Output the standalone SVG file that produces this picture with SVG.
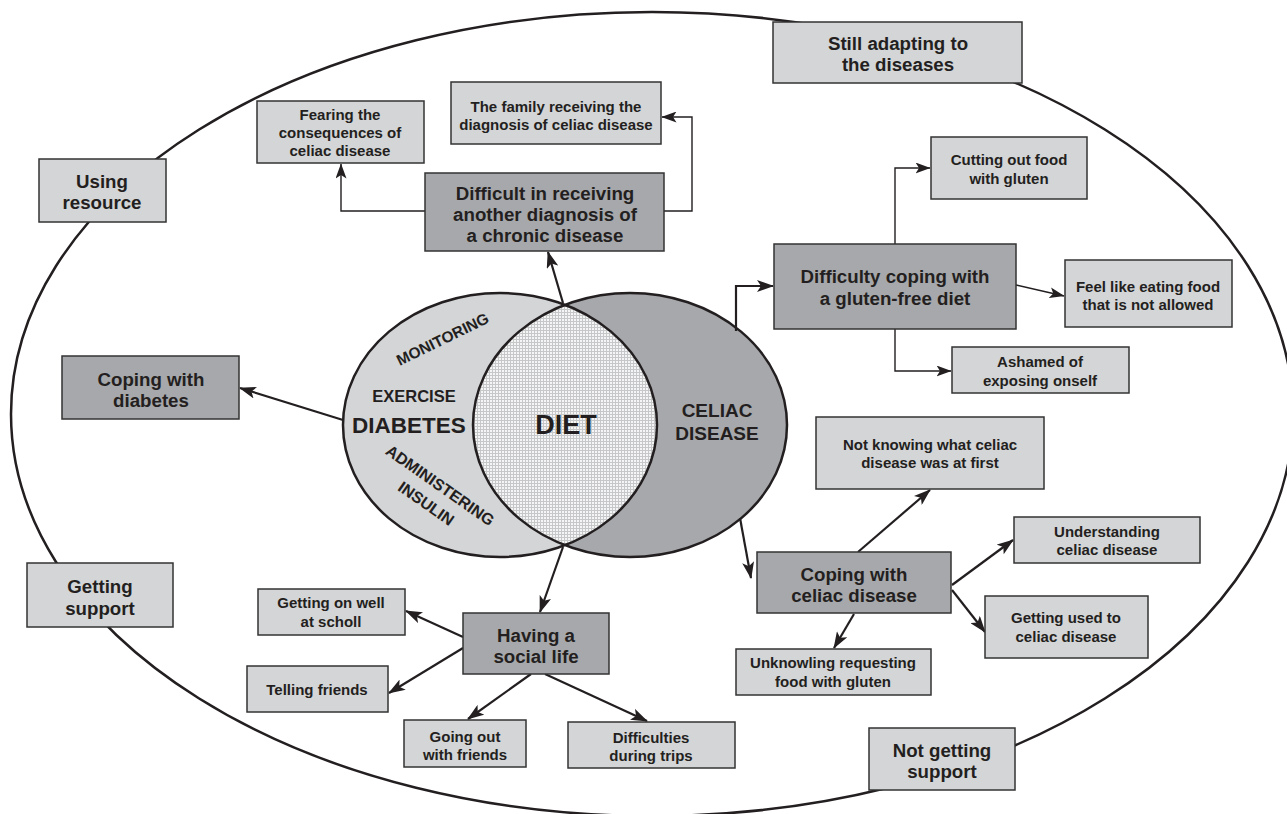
<svg xmlns="http://www.w3.org/2000/svg" width="1287" height="814" viewBox="0 0 1287 814">
<style>
.box{fill:#d4d5d7;stroke:#333;stroke-width:1.5}
.dark{fill:#a7a8ab;stroke:#333;stroke-width:1.5}
text{font-family:"Liberation Sans",Arial,sans-serif;font-weight:700;fill:#231f20;text-anchor:middle}
.s{font-size:15px}
.l{font-size:18.7px}
.thin{fill:none;stroke:#231f20;stroke-width:1.4}
.thick{fill:none;stroke:#231f20;stroke-width:2.2}
</style>
<defs>
<marker id="ah" markerUnits="userSpaceOnUse" markerWidth="17" markerHeight="12" viewBox="0 0 17 12" refX="16" refY="6" orient="auto">
<path d="M0,0 L17,6 L0,12 L4,6 z" fill="#231f20"/>
</marker>
<marker id="ahs" markerUnits="userSpaceOnUse" markerWidth="15" markerHeight="11" viewBox="0 0 15 11" refX="14.5" refY="5.5" orient="auto">
<path d="M0,0 L15,5.5 L0,11 L3.5,5.5 z" fill="#231f20"/>
</marker>
<pattern id="grid" width="3" height="3" patternUnits="userSpaceOnUse">
<rect width="3" height="3" fill="#f5f5f5"/>
<path d="M0,0.5H3M0.5,0V3" stroke="#c6c7c9" stroke-width="1"/>
</pattern>
<clipPath id="leftClip"><ellipse cx="500" cy="425" rx="157" ry="132"/></clipPath>
</defs>

<g id="outer">
<ellipse cx="652" cy="414" rx="641" ry="402" fill="none" stroke="#231f20" stroke-width="2.5"/>
</g>

<g id="venn">
<ellipse cx="500" cy="425" rx="157" ry="132" fill="#d4d5d7"/>
<ellipse cx="630" cy="425" rx="157" ry="132" fill="#a7a8ab"/>
<ellipse cx="630" cy="425" rx="157" ry="132" fill="url(#grid)" clip-path="url(#leftClip)"/>
<ellipse cx="500" cy="425" rx="157" ry="132" fill="none" stroke="#231f20" stroke-width="2.5"/>
<ellipse cx="630" cy="425" rx="157" ry="132" fill="none" stroke="#231f20" stroke-width="2.5"/>
<text x="445" y="344" font-size="15.5" transform="rotate(-26 445 344)">MONITORING</text>
<text x="414" y="402" font-size="16.5">EXERCISE</text>
<text x="409" y="433" font-size="22.5">DIABETES</text>
<text x="566" y="434" font-size="27">DIET</text>
<text x="717" font-size="19"><tspan x="717" y="417">CELIAC</tspan><tspan x="717" y="440">DISEASE</tspan></text>
<text x="437" y="490" font-size="16" transform="rotate(35 437 490)">ADMINISTERING</text>
<text x="423" y="508" font-size="16" transform="rotate(35 423 508)">INSULIN</text>
</g>

<g id="connectors">
<line class="thick" x1="563" y1="303" x2="548" y2="252" marker-end="url(#ah)"/>
<polyline class="thin" points="425,211 341,211 341,164" marker-end="url(#ahs)"/>
<polyline class="thin" points="664,211 692,211 692,117 662,117" marker-end="url(#ahs)"/>
<polyline class="thick" points="736,331 736,286 773,286" marker-end="url(#ah)"/>
<polyline class="thin" points="895,244 895,168 930,168" marker-end="url(#ahs)"/>
<line class="thin" x1="1016" y1="285" x2="1064" y2="296" marker-end="url(#ahs)"/>
<polyline class="thin" points="895,329 895,371 951,371" marker-end="url(#ahs)"/>
<line class="thick" x1="343" y1="420" x2="240" y2="388" marker-end="url(#ah)"/>
<line class="thick" x1="740" y1="518" x2="751" y2="578" marker-end="url(#ah)"/>
<line class="thick" x1="858" y1="552" x2="930" y2="490" marker-end="url(#ah)"/>
<line class="thick" x1="952" y1="585" x2="1013" y2="540" marker-end="url(#ah)"/>
<line class="thick" x1="952" y1="590" x2="985" y2="632" marker-end="url(#ah)"/>
<line class="thick" x1="854" y1="614" x2="834" y2="648" marker-end="url(#ah)"/>
<line class="thick" x1="563" y1="547" x2="540" y2="612" marker-end="url(#ah)"/>
<line class="thick" x1="463" y1="637" x2="406" y2="611" marker-end="url(#ah)"/>
<line class="thick" x1="463" y1="648" x2="389" y2="693" marker-end="url(#ah)"/>
<line class="thick" x1="531" y1="674" x2="468" y2="719" marker-end="url(#ah)"/>
<line class="thick" x1="545" y1="674" x2="647" y2="721" marker-end="url(#ah)"/>
</g>

<g id="still-adapting">
<rect class="box" x="773" y="22" width="249" height="61"/>
<text class="l"><tspan x="898" y="50">Still adapting to</tspan><tspan x="898" y="71">the diseases</tspan></text>
</g>
<g id="using-resource">
<rect class="box" x="39" y="159" width="127" height="63"/>
<text class="l"><tspan x="102" y="188">Using</tspan><tspan x="102" y="209">resource</tspan></text>
</g>
<g id="getting-support">
<rect class="box" x="27" y="563" width="146" height="64"/>
<text class="l"><tspan x="100" y="593">Getting</tspan><tspan x="100" y="615">support</tspan></text>
</g>
<g id="not-getting-support">
<rect class="box" x="869" y="728" width="146" height="62"/>
<text class="l"><tspan x="942" y="757">Not getting</tspan><tspan x="942" y="778">support</tspan></text>
</g>

<g id="fearing">
<rect class="box" x="257" y="101" width="167" height="62"/>
<text class="s"><tspan x="340" y="120">Fearing the</tspan><tspan x="340" y="138">consequences of</tspan><tspan x="340" y="156">celiac disease</tspan></text>
</g>
<g id="family">
<rect class="box" x="451" y="82" width="210" height="62"/>
<text class="s"><tspan x="556" y="112">The family receiving the</tspan><tspan x="556" y="130">diagnosis of celiac disease</tspan></text>
</g>
<g id="difficult-diagnosis">
<rect class="dark" x="425" y="173" width="239" height="78"/>
<text class="l"><tspan x="545" y="200">Difficult in receiving</tspan><tspan x="545" y="221">another diagnosis of</tspan><tspan x="545" y="242">a chronic disease</tspan></text>
</g>

<g id="cutting-out">
<rect class="box" x="931" y="137" width="156" height="62"/>
<text class="s"><tspan x="1009" y="165">Cutting out food</tspan><tspan x="1009" y="184">with gluten</tspan></text>
</g>
<g id="difficulty-gluten">
<rect class="dark" x="774" y="244" width="242" height="85"/>
<text class="l"><tspan x="895" y="283">Difficulty coping with</tspan><tspan x="895" y="305">a gluten-free diet</tspan></text>
</g>
<g id="feel-like">
<rect class="box" x="1065" y="260" width="167" height="67"/>
<text class="s"><tspan x="1148" y="292">Feel like eating food</tspan><tspan x="1148" y="310">that is not allowed</tspan></text>
</g>
<g id="ashamed">
<rect class="box" x="952" y="347" width="177" height="46"/>
<text class="s"><tspan x="1040" y="367">Ashamed of</tspan><tspan x="1040" y="386">exposing onself</tspan></text>
</g>

<g id="coping-diabetes">
<rect class="dark" x="62" y="356" width="177" height="63"/>
<text class="l"><tspan x="151" y="386">Coping with</tspan><tspan x="151" y="407">diabetes</tspan></text>
</g>

<g id="not-knowing">
<rect class="box" x="816" y="417" width="228" height="72"/>
<text class="s"><tspan x="930" y="450">Not knowing what celiac</tspan><tspan x="930" y="468">disease was at first</tspan></text>
</g>
<g id="understanding">
<rect class="box" x="1014" y="517" width="186" height="46"/>
<text class="s"><tspan x="1107" y="537">Understanding</tspan><tspan x="1107" y="555">celiac disease</tspan></text>
</g>
<g id="coping-celiac">
<rect class="dark" x="757" y="552" width="194" height="61"/>
<text class="l"><tspan x="854" y="581">Coping with</tspan><tspan x="854" y="602">celiac disease</tspan></text>
</g>
<g id="getting-used">
<rect class="box" x="985" y="596" width="163" height="62"/>
<text class="s"><tspan x="1066" y="623">Getting used to</tspan><tspan x="1066" y="642">celiac disease</tspan></text>
</g>
<g id="unknowling">
<rect class="box" x="736" y="649" width="195" height="46"/>
<text class="s"><tspan x="833" y="668">Unknowling requesting</tspan><tspan x="833" y="687">food with gluten</tspan></text>
</g>

<g id="getting-on-well">
<rect class="box" x="258" y="589" width="147" height="46"/>
<text class="s"><tspan x="331" y="608">Getting on well</tspan><tspan x="331" y="627">at scholl</tspan></text>
</g>
<g id="telling-friends">
<rect class="box" x="247" y="666" width="141" height="46"/>
<text class="s" x="317" y="695">Telling friends</text>
</g>
<g id="social-life">
<rect class="dark" x="463" y="613" width="146" height="61"/>
<text class="l"><tspan x="536" y="642">Having a</tspan><tspan x="536" y="663">social life</tspan></text>
</g>
<g id="going-out">
<rect class="box" x="404" y="720" width="122" height="47"/>
<text class="s"><tspan x="465" y="742">Going out</tspan><tspan x="465" y="760">with friends</tspan></text>
</g>
<g id="difficulties-trips">
<rect class="box" x="568" y="722" width="167" height="46"/>
<text class="s"><tspan x="651" y="743">Difficulties</tspan><tspan x="651" y="761">during trips</tspan></text>
</g>
</svg>
